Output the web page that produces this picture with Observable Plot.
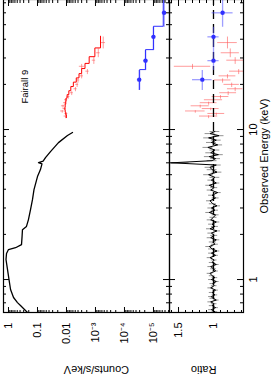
<!DOCTYPE html>
<html><head><meta charset="utf-8">
<script src="https://cdn.jsdelivr.net/npm/d3@7"></script>
<script src="https://cdn.jsdelivr.net/npm/@observablehq/plot@0.6"></script>
<style>
html,body{margin:0;padding:0;background:#fff;overflow:hidden;width:273px;height:380px;}
#rot{position:absolute;left:0;top:0;width:380px;height:273px;transform-origin:0 0;transform:translate(0px,380px) rotate(-90deg);}
#rot svg{display:block;}
</style></head><body><div id="rot"></div>
<script>
// ---------- data ----------
const blackCountE = [0.603,0.631,0.671,0.702,0.759,0.858,1.0,1.166,1.36,1.49,1.585,1.63,1.71,1.94,2.15,2.26,2.51,2.93,3.41,3.98,4.86,5.41,5.9,6.02,6.15,6.49,7.13,8.18,9.12,9.55];
const blackCountC = [0.221,0.281,0.386,0.49,0.67,0.85,0.96,1.08,1.22,1.17,1.0,0.57,0.356,0.34,0.33,0.24,0.205,0.174,0.149,0.132,0.1,0.079,0.07,0.092,0.064,0.053,0.0356,0.0189,0.00924,0.0062];

const blackRatioE = [0.61,0.63,0.65,0.67,0.69,0.71,0.73,0.75,0.77,0.79,
0.82,0.85,0.88,0.91,0.94,0.97,1.0,1.03,1.06,1.1,
1.14,1.18,1.22,1.26,1.3,1.35,1.4,1.45,1.5,1.55,
1.6,1.66,1.72,1.78,1.84,1.9,1.97,2.04,2.11,2.18,
2.26,2.34,2.42,2.5,2.6,2.7,2.8,2.9,3.0,3.1,
3.2,3.35,3.5,3.65,3.8,3.95,4.1,4.25,4.4,4.6,
4.8,5.0,5.2,5.4,5.6,5.8,6.0,6.2,6.4,6.6,
6.8,7.0,7.3,7.6,7.9,8.2,8.5,8.8,9.1,9.4,9.7];
const blackRatio = [0.98,1.03,0.97,1.02,0.99,1.04,0.96,1.01,1.03,0.98,
1.02,0.97,1.04,0.99,1.01,0.96,1.03,0.98,1.02,1.05,
0.97,1.0,1.04,0.96,1.02,0.99,1.05,0.97,1.03,0.95,
1.02,1.06,0.98,1.01,0.96,1.04,0.99,1.03,0.95,1.05,
0.98,1.02,0.96,1.04,1.0,0.97,1.06,0.98,1.03,0.95,
1.01,1.05,0.97,1.02,0.94,1.04,0.99,1.06,0.96,1.03,
0.98,1.07,0.95,1.02,1.05,0.96,1.6,1.02,0.97,1.06,
0.93,1.04,0.98,1.08,0.94,1.03,0.96,1.07,0.92,1.05,0.98];
const blackRatioErr = [0.04,0.04,0.04,0.04,0.04,0.04,0.04,0.04,0.04,0.04,
0.04,0.04,0.04,0.04,0.04,0.04,0.04,0.04,0.04,0.04,
0.04,0.04,0.04,0.04,0.04,0.04,0.04,0.04,0.04,0.04,
0.05,0.05,0.05,0.05,0.05,0.05,0.05,0.05,0.05,0.05,
0.05,0.05,0.05,0.05,0.05,0.05,0.05,0.05,0.05,0.05,
0.05,0.05,0.05,0.05,0.05,0.05,0.05,0.05,0.05,0.05,
0.07,0.07,0.07,0.07,0.07,0.07,0.25,0.07,0.07,0.07,
0.07,0.07,0.07,0.07,0.07,0.07,0.07,0.07,0.07,0.07,0.07];

const redE     = [12.3,12.8,13.3,13.8,14.4,15.1,15.8,16.6,17.6,18.7,20.0,21.4,22.8,24.5,26.4,29.0,32.5,38.0];
const redLo    = [12.0,12.55,13.05,13.55,14.1,14.75,15.45,16.2,17.1,18.15,19.35,20.7,22.1,23.6,25.5,27.6,30.6,35.0];
const redHi    = [12.55,13.05,13.55,14.1,14.75,15.45,16.2,17.1,18.15,19.35,20.7,22.1,23.6,25.5,27.6,30.6,35.0,42.0];
const redC     = [0.0108,0.0102,0.0140,0.0118,0.0132,0.0113,0.0104,0.0086,0.0066,0.0049,0.0043,0.0040,0.0030,0.0019,0.0030,0.00114,0.00080,0.00054];
const redCErr  = [0.0013,0.0012,0.0019,0.0014,0.0017,0.0013,0.0013,0.0010,0.0008,0.0006,0.0005,0.0005,0.0004,0.00025,0.0006,0.00015,0.00011,0.00009];
const redModel = [0.0101,0.0106,0.0111,0.0113,0.0111,0.0106,0.0104,0.0095,0.0083,0.0071,0.0058,0.0046,0.0037,0.0030,0.0023,0.00165,0.00105,0.00067];
const redRatio = [1.07,0.96,1.26,1.04,1.19,1.07,1.00,0.90,0.79,0.69,0.74,0.87,0.80,0.64,1.30,0.69,0.76,0.80];
const redRErr  = [0.13,0.12,0.14,0.12,0.13,0.12,0.13,0.12,0.12,0.11,0.11,0.12,0.12,0.13,0.26,0.12,0.13,0.14];

const blueE     = [21.5,28.8,41.5,60];
const blueLo    = [18.5,25.1,34.1,48.8];
const blueHi    = [25.1,34.1,48.8,100];
const blueC     = [3.1e-5,1.88e-5,1.0e-5,4.3e-6];
const blueCErr  = [0.5e-5,0.3e-5,0.15e-5,0.7e-6];
const blueModel = [3.0e-5,1.88e-5,1.0e-5,4.6e-6];
const blueRatio = [1.16,1.0,1.0,0.87];
const blueRErr  = [0.14,0.08,0.08,0.15];

const energyMajor = [1,10];
const energyMinor = [0.7,0.8,0.9,2,3,4,5,6,7,8,9,20,30,40,50,60,70];
const energyLabels = ["1","10"];
const countMajor = [1,0.1,0.01,1e-3,1e-4,1e-5];
const countLabels = ["1","0.1","0.01","10\u207B\u00B3","10\u207B\u2074","10\u207B\u2075"];
const ratioMajor = [1,1.5];
const ratioMinor = [0.6,0.7,0.8,0.9,1.1,1.2,1.3,1.4,1.6];
const ratioLabels = ["1","1.5"];

// ---------- tables ----------
const blackCounts = blackCountE.map((e,i)=>({e, c: blackCountC[i]}));
const blackR = blackRatioE.map((e,i)=>({e, r: blackRatio[i], err: blackRatioErr[i]}));
const red = redE.map((e,i)=>({e, lo: redLo[i], hi: redHi[i], c: redC[i], ce: redCErr[i], m: redModel[i], r: redRatio[i], re: redRErr[i]}));
const redStep = red.map(d=>({e: d.lo, m: d.m})).concat([{e: redHi[redHi.length-1], m: redModel[redModel.length-1]}]);
const blue = blueE.map((e,i)=>({e, lo: blueLo[i], hi: blueHi[i], c: blueC[i], ce: blueCErr[i], m: blueModel[i], r: blueRatio[i], re: blueRErr[i]}));
const blueStep = blue.map(d=>({e: d.lo, m: d.m})).concat([{e: blueHi[blueHi.length-1], m: blueModel[blueModel.length-1]}]);
let countMinor = [];
for (let p = -6; p <= 0; p++) for (let k = 2; k <= 9; k++) { const v = k*Math.pow(10,p); if (v > 2.8e-6 && v < 1.48) countMinor.push(v); }

// ---------- layout ----------
const W = 380, ML = 67, MR = 0, FW = W - ML - MR;
const H1 = 169, MT1 = 3, MB1 = 0, FH1 = H1 - MT1 - MB1;
const H2 = 104, MT2 = 0, MB2 = 30, FH2 = H2 - MT2 - MB2;
const FONT = "'Liberation Sans', Arial, Helvetica, sans-serif";
const xScale = {type: "log", domain: [0.603, 73.6], axis: null};
const RED = "#ff0000", REDL = "rgba(255,90,90,0.6)", BLUE = "#3030ff", BLUEL = "rgba(80,80,255,0.55)";
const MAJ = 6, MIN = 3;

function xTicks(FH) {
  return [
    Plot.tickX(energyMajor, {x: d=>d, insetBottom: FH - MAJ, strokeWidth: 1}),
    Plot.tickX(energyMinor, {x: d=>d, insetBottom: FH - MIN, strokeWidth: 1}),
    Plot.tickX(energyMajor, {x: d=>d, insetTop: FH - MAJ, strokeWidth: 1}),
    Plot.tickX(energyMinor, {x: d=>d, insetTop: FH - MIN, strokeWidth: 1})
  ];
}
function yTicks(major, minor) {
  return [
    Plot.tickY(major, {y: d=>d, insetRight: FW - MAJ, strokeWidth: 1}),
    Plot.tickY(minor, {y: d=>d, insetRight: FW - MIN, strokeWidth: 1}),
    Plot.tickY(major, {y: d=>d, insetLeft: FW - MAJ, strokeWidth: 1}),
    Plot.tickY(minor, {y: d=>d, insetLeft: FW - MIN, strokeWidth: 1})
  ];
}

const p1 = Plot.plot({
  width: W, height: H1, marginLeft: ML, marginRight: MR, marginTop: MT1, marginBottom: MB1,
  style: {fontFamily: FONT, fontSize: "11px", background: "transparent", overflow: "visible", color: "black"},
  x: xScale,
  y: {type: "log", domain: [2.8e-6, 1.487], axis: null},
  marks: [
    Plot.ruleY(red, {y: "c", x1: "lo", x2: "hi", stroke: REDL, strokeWidth: 1, clip: true}),
    Plot.ruleX(red, {x: "e", y1: d=>d.c - d.ce, y2: d=>d.c + d.ce, stroke: REDL, strokeWidth: 1, clip: true}),
    Plot.line(redStep, {x: "e", y: "m", curve: "step-after", stroke: RED, strokeWidth: 1, clip: true}),
    Plot.ruleY(blue, {y: "c", x1: "lo", x2: "hi", stroke: BLUEL, strokeWidth: 1.5, clip: true}),
    Plot.ruleX(blue, {x: "e", y1: d=>d.c - d.ce, y2: d=>d.c + d.ce, stroke: BLUEL, strokeWidth: 1.5, clip: true}),
    Plot.line(blueStep, {x: "e", y: "m", curve: "step-after", stroke: BLUE, strokeWidth: 1, clip: true}),
    Plot.dot(blue, {x: "e", y: "c", r: 2.2, fill: BLUE, clip: true}),
    Plot.line(blackCounts, {x: "e", y: "c", stroke: "black", strokeWidth: 1.3, clip: true}),
    Plot.frame({stroke: "black", strokeWidth: 1.2}),
    ...xTicks(FH1),
    ...yTicks(countMajor, countMinor),
    Plot.text(countMajor, {y: d=>d, text: (d,i)=>countLabels[i], frameAnchor: "left", dx: -10, textAnchor: "end", fontSize: 11}),
    Plot.text(["Counts/s/keV"], {y: [9.3e-4], text: d=>d, frameAnchor: "left", dx: -57, rotate: -90, textAnchor: "middle", lineAnchor: "middle", fontSize: 11}),
    Plot.text(["Fairall 9"], {x: [19.3], y: [0.28], text: d=>d, textAnchor: "middle", fontSize: 9.5})
  ]
});

const p2 = Plot.plot({
  width: W, height: H2, marginLeft: ML, marginRight: MR, marginTop: MT2, marginBottom: MB2,
  style: {fontFamily: FONT, fontSize: "11px", background: "transparent", overflow: "visible", color: "black"},
  x: xScale,
  y: {domain: [0.571, 1.629], axis: null},
  marks: [
    Plot.ruleY(red, {y: "r", x1: "lo", x2: "hi", stroke: REDL, strokeWidth: 1, clip: true}),
    Plot.ruleX(red, {x: "e", y1: d=>d.r - d.re, y2: d=>d.r + d.re, stroke: REDL, strokeWidth: 1, clip: true}),
    Plot.ruleX(blackR, {x: "e", y1: d=>d.r - d.err, y2: d=>d.r + d.err, stroke: "#888", strokeWidth: 0.9, clip: true}),
    Plot.line(blackR, {x: "e", y: "r", stroke: "black", strokeWidth: 1, clip: true}),
    Plot.ruleY([1], {stroke: "black", strokeWidth: 1.3, strokeDasharray: "9,5"}),
    Plot.ruleY(blue, {y: "r", x1: "lo", x2: "hi", stroke: BLUEL, strokeWidth: 1.3, clip: true}),
    Plot.ruleX(blue, {x: "e", y1: d=>d.r - d.re, y2: d=>d.r + d.re, stroke: BLUEL, strokeWidth: 1.3, clip: true}),
    Plot.dot(blue, {x: "e", y: "r", r: 2.2, fill: BLUE, clip: true}),
    Plot.frame({stroke: "black", strokeWidth: 1.2}),
    ...xTicks(FH2),
    ...yTicks(ratioMajor, ratioMinor),
    Plot.text(ratioMajor, {y: d=>d, text: (d,i)=>ratioLabels[i], frameAnchor: "left", dx: -10, textAnchor: "end", fontSize: 11}),
    Plot.text(["Ratio"], {y: [1.14], text: d=>d, frameAnchor: "left", dx: -57, rotate: -90, textAnchor: "middle", lineAnchor: "middle", fontSize: 11}),
    Plot.text(energyMajor, {x: d=>d, text: (d,i)=>energyLabels[i], frameAnchor: "bottom", dy: 10, lineAnchor: "middle", textAnchor: "middle", fontSize: 11}),
    Plot.text(["Observed Energy (keV)"], {x: [6.66], text: d=>d, frameAnchor: "bottom", dy: 21, lineAnchor: "middle", textAnchor: "middle", fontSize: 11})
  ]
});

const root = document.getElementById("rot");
root.appendChild(p1);
root.appendChild(p2);
</script></body></html>
